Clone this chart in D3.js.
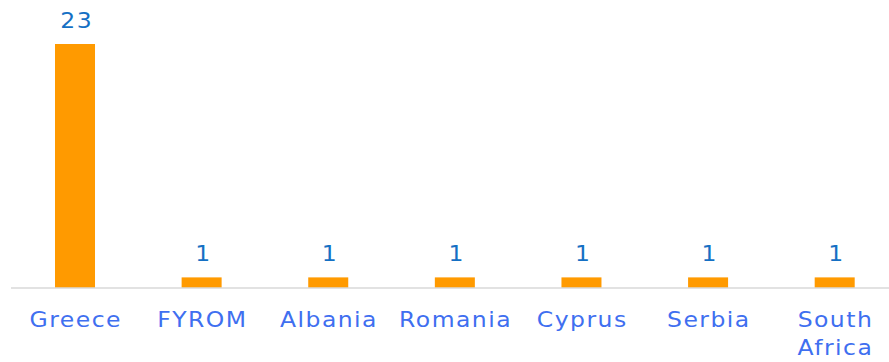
<!DOCTYPE html>
<html>
<head>
<meta charset="utf-8">
<script src="https://cdn.jsdelivr.net/npm/d3@7"></script>
<style>
  html, body { margin: 0; padding: 0; background: #fff; }
  svg { display: block; }
</style>
</head>
<body>
<svg id="chart" width="889" height="362"></svg>
<script>
// Countries and their counts
const categories = ["Greece", "FYROM", "Albania", "Romania", "Cyprus", "Serbia", "South Africa"];
const values = [23, 1, 1, 1, 1, 1, 1];

const W = 889, H = 362;
const baseY = 288;
const svg = d3.select("#chart");

const x = d3.scaleBand()
  .domain(categories)
  .range([11.7, 898])
  .paddingInner(0.684)
  .paddingOuter(0.342);

const y = d3.scaleLinear()
  .domain([0, 23])
  .range([baseY, 44]);

// Bars
svg.selectAll("rect.bar")
  .data(categories)
  .join("rect")
  .attr("class", "bar")
  .attr("x", d => x(d))
  .attr("width", x.bandwidth())
  .attr("y", (d, i) => y(values[i]))
  .attr("height", (d, i) => baseY - y(values[i]))
  .attr("fill", "#ff9a00");

// Baseline axis
const axis = d3.axisBottom(x).tickSize(0).tickSizeOuter(0).tickFormat("");
const gAxis = svg.append("g").attr("transform", `translate(0,${baseY})`).call(axis);
gAxis.select(".domain").attr("stroke", "#d9d9d9").attr("stroke-width", 1.5)
  .attr("d", `M11,0H${W}`);

const LS = 1.3;     // letter spacing
const SX = 1.12;    // horizontal widening of the type
const FONT = "'DejaVu Sans', Verdana, sans-serif";

// Category labels (wrapped on spaces)
const labels = svg.append("g");
categories.forEach(c => {
  const words = c.split(" ");
  const cx = x(c) + x.bandwidth() / 2;
  const t = labels.append("text")
    .attr("transform", `translate(${cx},327) scale(${SX},1)`)
    .attr("x", LS / 2)
    .attr("text-anchor", "middle")
    .attr("fill", "#3f6ff0")
    .style("font-family", FONT)
    .style("font-size", "21px")
    .style("letter-spacing", LS + "px");
  words.forEach((w, k) => {
    t.append("tspan")
      .attr("x", LS / 2)
      .attr("dy", k === 0 ? 0 : 28)
      .text(w);
  });
});

// Value labels
svg.selectAll("text.val")
  .data(categories)
  .join("text")
  .attr("class", "val")
  .attr("transform", (d, i) => `translate(${x(d) + x.bandwidth() / 2 + 1},${y(values[i]) - 16.5}) scale(${SX},1)`)
  .attr("x", LS / 2)
  .attr("text-anchor", "middle")
  .attr("fill", "#1570c4")
  .style("font-family", FONT)
  .style("font-size", "21px")
  .style("letter-spacing", LS + "px")
  .text((d, i) => values[i]);
</script>
</body>
</html>
